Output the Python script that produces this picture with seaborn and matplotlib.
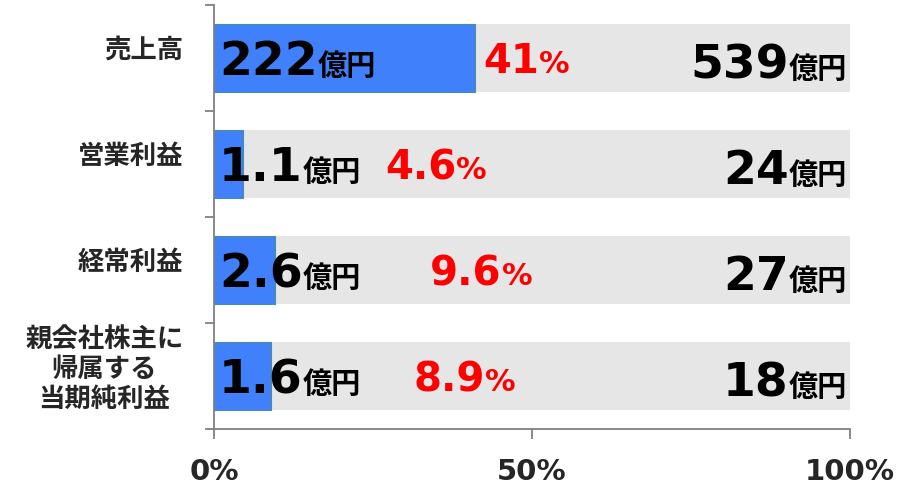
import matplotlib
matplotlib.use("Agg")
import matplotlib.pyplot as plt
import seaborn as sns
import pandas as pd
from matplotlib.ticker import FixedLocator

# ---- data ----
categories = ["売上高", "営業利益", "経常利益", "親会社株主に\n帰属する\n当期純利益"]
actual_oku = [222, 1.1, 2.6, 1.6]          # 実績 (億円)
target_oku = [539, 24, 27, 18]             # 通期予想 (億円)
progress_pct = [41, 4.6, 9.6, 8.9]         # 進捗率 (%)
full_pct = [100, 100, 100, 100]
x_tick_values = [0, 50, 100]
x_tick_labels = ["0%", "50%", "100%"]

# ---- layout / style ----
pct_label_x = [42.3, 26.9, 34.0, 31.4]
LABEL_SHIFT = 0.11
BLUE = "#4080FB"
BLUE_EDGE = "#4A8F9A"
GREY = "#E6E6E6"
SPINE = "#808080"

sns.set_style("white")
plt.rcParams["font.family"] = ["DejaVu Sans", "Noto Sans CJK JP"]
plt.rcParams["font.weight"] = "bold"
CJK = ["Noto Sans CJK JP", "DejaVu Sans"]

df = pd.DataFrame({"cat": categories, "full": full_pct, "progress": progress_pct})

fig = plt.figure(figsize=(8.99, 4.85), dpi=100)
ax = fig.add_axes([214 / 899, 1 - 430 / 485, 636 / 899, 424 / 485])

sns.barplot(data=df, x="full", y="cat", orient="h", color=GREY, width=0.64,
            ax=ax, linewidth=0, saturation=1)
sns.barplot(data=df, x="progress", y="cat", orient="h", color=BLUE, width=0.64,
            ax=ax, linewidth=0.8, edgecolor=BLUE_EDGE, saturation=1)

ax.set_xlim(0, 100)
ax.set_ylim(3.5, -0.5)
ax.set_xlabel("")
ax.set_ylabel("")

for s in ["top", "right"]:
    ax.spines[s].set_visible(False)
for s in ["left", "bottom"]:
    ax.spines[s].set_color(SPINE)
    ax.spines[s].set_linewidth(1.3)

# y ticks: labels slightly above bar centres, tick marks at boundaries
ax.set_yticks([i - LABEL_SHIFT for i in range(len(categories))])
ax.set_yticklabels(categories, fontsize=19, fontweight="bold", family=CJK)
for lab in ax.get_yticklabels():
    lab.set_multialignment("center")
    lab.set_linespacing(1.12)
ax.tick_params(axis="y", which="major", length=0, pad=22)
ax.yaxis.set_minor_locator(FixedLocator([-0.5, 0.5, 1.5, 2.5, 3.5]))
ax.tick_params(axis="y", which="minor", length=6.5, width=1.3, color=SPINE, direction="out", left=True)

ax.set_xticks(x_tick_values)
ax.set_xticklabels(x_tick_labels, fontsize=21, fontweight="bold")
ax.tick_params(axis="x", length=7, width=1.3, color=SPINE, direction="out", pad=13, bottom=True)

def fmt(v):
    return f"{v:g}"

for i in range(len(categories)):
    # actual value (left)
    t1 = ax.text(0.8, i + 0.155, fmt(actual_oku[i]), fontsize=34, fontweight="bold",
                 color="black", va="baseline", ha="left")
    ax.annotate("億円", xy=(1, i + 0.155), xycoords=(t1, "data"), fontsize=21,
                fontweight="bold", color="black", va="baseline", ha="left", family=CJK)
    # progress percentage (red)
    t2 = ax.text(pct_label_x[i], i + 0.135, fmt(progress_pct[i]), fontsize=29,
                 fontweight="bold", color="#FF0000", va="baseline", ha="left")
    ax.annotate("%", xy=(1, i + 0.135), xycoords=(t2, "data"), fontsize=22,
                fontweight="bold", color="#FF0000", va="baseline", ha="left")
    # target value (right)
    t3 = ax.text(99.5, i + 0.18, "億円", fontsize=21, fontweight="bold",
                 color="black", va="baseline", ha="right", family=CJK)
    ax.annotate(fmt(target_oku[i]), xy=(0, i + 0.18), xycoords=(t3, "data"),
                fontsize=34, fontweight="bold", color="black", va="baseline", ha="right")

fig.savefig("out.png", dpi=100)
